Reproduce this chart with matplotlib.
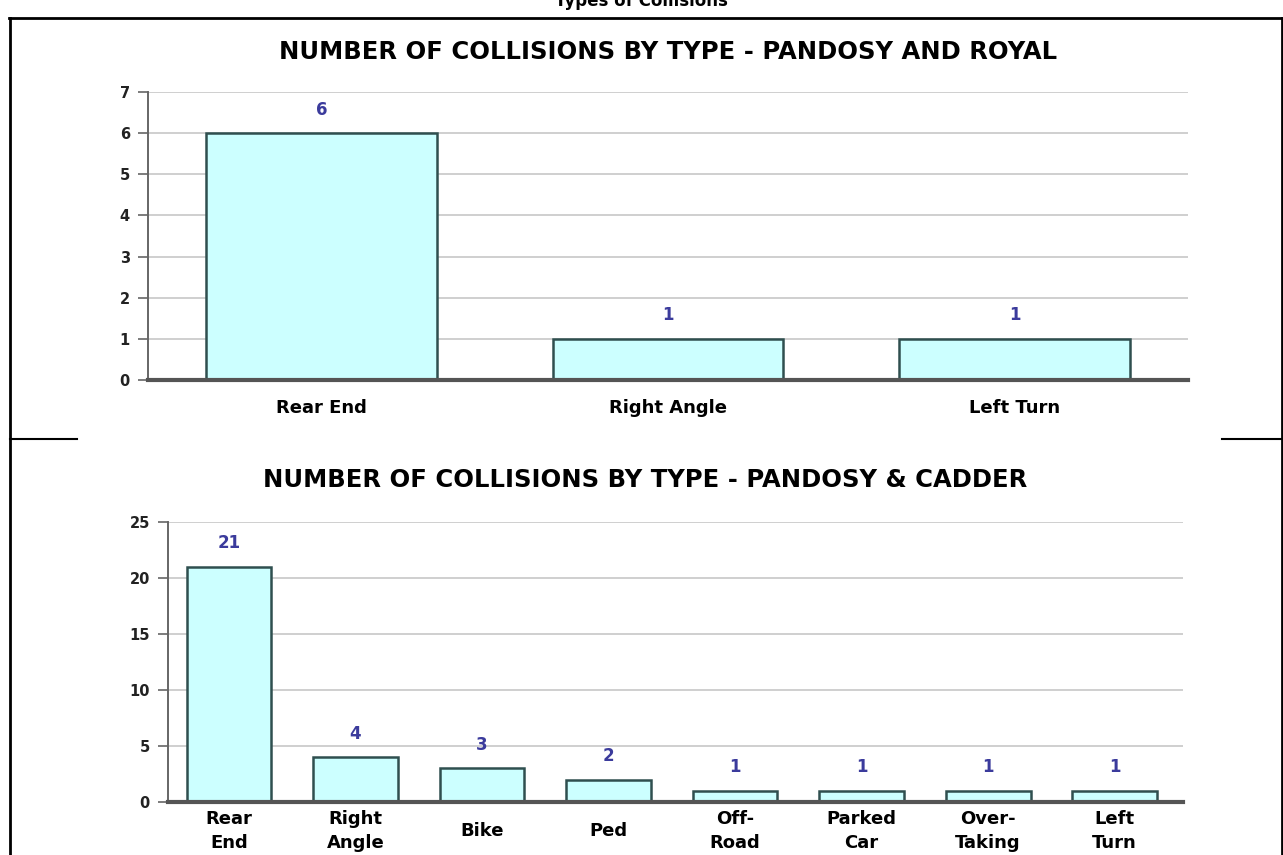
import matplotlib
matplotlib.use("Agg")
import matplotlib.pyplot as plt
from matplotlib.lines import Line2D

# Collision counts for the two intersections
royal_types = ["Rear End", "Right Angle", "Left Turn"]
royal_counts = [6, 1, 1]

cadder_types = ["Rear\nEnd", "Right\nAngle", "Bike", "Ped", "Off-\nRoad",
                "Parked\nCar", "Over-\nTaking", "Left\nTurn"]
cadder_counts = [21, 4, 3, 2, 1, 1, 1, 1]

BAR_FACE = "#ccffff"
BAR_EDGE = "#2f4f4f"
VALUE_COLOR = "#3b3b9c"
GRID_COLOR = "#cfcfcf"

W, H = 1283, 855
fig = plt.figure(figsize=(W / 100, H / 100), dpi=100)
plt.rcParams["font.family"] = ["DejaVu Sans"]


def px_box(left, top, right, bottom):
    # convert pixel box (origin top-left) to figure fraction rect
    return [left / W, 1 - bottom / H, (right - left) / W, (bottom - top) / H]


def draw_bars(ax, labels, counts, ymax, yticks, width, xlim, label_pad, linespacing):
    x = list(range(len(labels)))
    ax.bar(x, counts, width=width, color=BAR_FACE, edgecolor=BAR_EDGE,
           linewidth=1.8, zorder=3)
    for xi, c in zip(x, counts):
        ax.annotate(str(c), (xi, c), xytext=(0, 17), textcoords="offset points",
                    ha="center", va="center", color=VALUE_COLOR, fontsize=12,
                    fontweight="bold", zorder=4)
    ax.set_xlim(*xlim)
    ax.set_ylim(0, ymax)
    ax.set_yticks(yticks)
    ax.set_yticklabels([str(t) for t in yticks], fontsize=10.5,
                       fontweight="bold", color="#222222")
    ax.set_xticks(x)
    ax.set_xticklabels(labels, fontsize=13, fontweight="bold",
                       linespacing=linespacing, va="center")
    ax.tick_params(axis="x", length=0, pad=label_pad)
    ax.tick_params(axis="y", length=7, width=1.2, color="#666666", pad=6)
    ax.grid(axis="y", color=GRID_COLOR, linewidth=1.4, zorder=0)
    ax.set_axisbelow(True)
    for side in ("top", "right"):
        ax.spines[side].set_visible(False)
    ax.spines["left"].set_color("#666666")
    ax.spines["left"].set_linewidth(1.4)
    ax.spines["bottom"].set_color("#555555")
    ax.spines["bottom"].set_linewidth(3)
    ax.spines["bottom"].set_zorder(5)


# Pandosy and Royal
ax1 = fig.add_axes(px_box(148, 92, 1188, 380))
draw_bars(ax1, royal_types, royal_counts, 7, list(range(0, 8)),
          width=0.665, xlim=(-0.5, 2.5), label_pad=20, linespacing=1.2)

# Pandosy & Cadder
ax2 = fig.add_axes(px_box(168, 522, 1183, 802))
draw_bars(ax2, cadder_types, cadder_counts, 25, list(range(0, 26, 5)),
          width=0.67, xlim=(-0.482, 7.54), label_pad=21, linespacing=1.45)

fig.text(668 / W, 1 - 52 / H, "NUMBER OF COLLISIONS BY TYPE - PANDOSY AND ROYAL",
         ha="center", va="center", fontsize=17.5, fontweight="bold")
fig.text(645 / W, 1 - 480 / H, "NUMBER OF COLLISIONS BY TYPE - PANDOSY & CADDER",
         ha="center", va="center", fontsize=17.5, fontweight="bold")
fig.text(641 / W, 1 - 1 / H, "Types of Collisions", ha="center", va="center",
         fontsize=12, fontweight="bold")

# surrounding table border
def hline(x0, x1, y, lw=2):
    fig.add_artist(Line2D([x0 / W, x1 / W], [1 - y / H, 1 - y / H],
                          color="black", linewidth=lw))


def vline(x, y0, y1, lw=2):
    fig.add_artist(Line2D([x / W, x / W], [1 - y0 / H, 1 - y1 / H],
                          color="black", linewidth=lw))


hline(9, 1283, 18)
vline(10, 18, 855)
vline(1281.5, 18, 855)
hline(10, 77, 439, lw=1.5)
hline(1222, 1283, 439, lw=1.5)

fig.savefig("out.png", dpi=100)
